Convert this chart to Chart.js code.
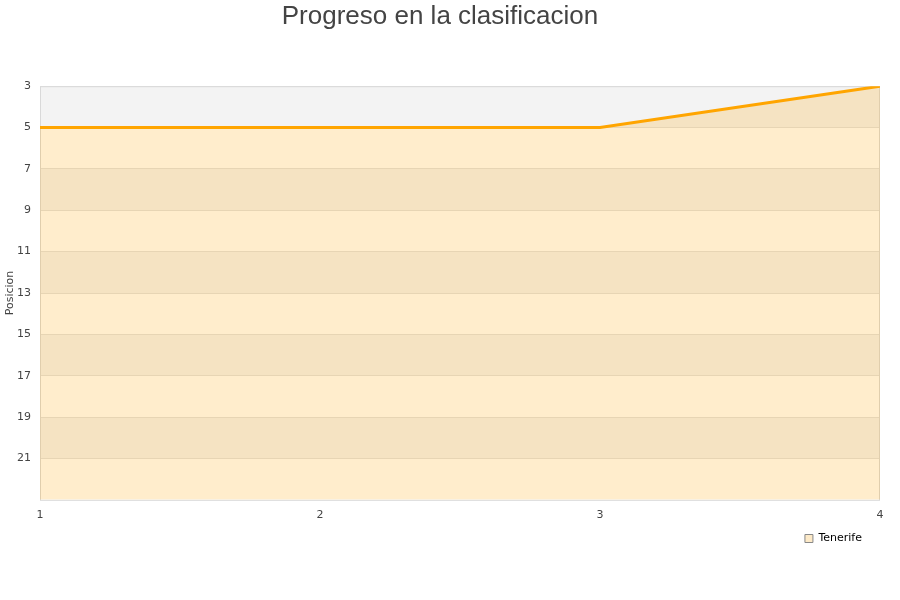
<!DOCTYPE html>
<html lang="es">
<head>
    <meta charset="UTF-8">
    <title>Progreso en la clasificacion</title>
    <script src="https://cdn.jsdelivr.net/npm/chart.js"></script>
    <style>
        html, body { margin: 0; padding: 0; background: #fff; }
        #wrap { width: 900px; height: 600px; }
    </style>
</head>
<body>
    <div id="wrap"><canvas id="posChart" width="900" height="600"></canvas></div>
    <script>
        // Datos
        const jornadas = [1, 2, 3, 4];
        const posiciones = [5, 5, 5, 3];
        const equipo = 'Tenerife';
        const yTicks = [3, 5, 7, 9, 11, 13, 15, 17, 19, 21];

        // alternating background bands + plot border
        const bandsPlugin = {
            id: 'bands',
            afterLayout(chart) {
                // pull the legend up closer to the x axis
                chart.legend.top -= 16;
                chart.legend.bottom -= 16;
            },
            beforeDraw(chart) {
                const { ctx, chartArea: a, scales: { y } } = chart;
                ctx.save();
                for (let v = y.min; v < y.max; v += 2) {
                    const t = y.getPixelForValue(v);
                    const b = y.getPixelForValue(v + 2);
                    ctx.fillStyle = ((v - 3) / 2) % 2 === 0 ? '#f3f3f3' : '#ffffff';
                    ctx.fillRect(a.left, t, a.right - a.left, b - t);
                }
                ctx.restore();
            },
            beforeDatasetsDraw(chart) {
                const { ctx, chartArea: a } = chart;
                ctx.save();
                ctx.strokeStyle = '#d9d9d9';
                ctx.lineWidth = 1;
                ctx.strokeRect(a.left + 0.5, a.top + 0.5, a.right - a.left - 1, a.bottom - a.top);
                ctx.restore();
            }
        };

        const ctx = document.getElementById('posChart').getContext('2d');
        new Chart(ctx, {
            type: 'line',
            data: {
                datasets: [{
                    label: equipo,
                    data: jornadas.map((j, i) => ({ x: j, y: posiciones[i] })),
                    borderColor: '#ffa500',
                    backgroundColor: 'rgba(255, 165, 0, 0.2)',
                    borderWidth: 3,
                    pointRadius: 0,
                    tension: 0,
                    fill: 'start'
                }]
            },
            options: {
                responsive: false,
                animation: false,
                layout: { padding: { top: 0, right: 20, bottom: 30, left: 0 } },
                plugins: {
                    title: {
                        display: true,
                        text: 'Progreso en la clasificacion',
                        color: '#444',
                        font: { family: 'Liberation Sans, Arial', size: 26, weight: 'normal' },
                        padding: { top: 1, bottom: 54 }
                    },
                    legend: {
                        position: 'bottom',
                        align: 'end',
                        labels: {
                            boxWidth: 8,
                            boxHeight: 8,
                            padding: 18,
                            color: '#000',
                            font: { family: 'DejaVu Sans', size: 11 },
                            generateLabels: (chart) => [{
                                text: equipo,
                                fillStyle: '#fdeac8',
                                strokeStyle: '#888',
                                lineWidth: 1,
                                datasetIndex: 0
                            }]
                        }
                    },
                    tooltip: { enabled: false }
                },
                scales: {
                    x: {
                        type: 'linear',
                        min: 1,
                        max: 4,
                        ticks: {
                            stepSize: 1,
                            color: '#444',
                            padding: 9,
                            font: { family: 'DejaVu Sans', size: 11 }
                        },
                        grid: { display: false, drawTicks: false },
                        border: { display: false }
                    },
                    y: {
                        reverse: true,
                        min: 3,
                        max: 23,
                        afterBuildTicks: (s) => { s.ticks = yTicks.map(v => ({ value: v })); },
                        ticks: {
                            color: '#444',
                            padding: 9,
                            font: { family: 'DejaVu Sans', size: 11 }
                        },
                        title: {
                            display: true,
                            text: 'Posicion',
                            color: '#444',
                            padding: { top: 4, bottom: 0 },
                            font: { family: 'DejaVu Sans', size: 11 }
                        },
                        grid: { color: '#e2e2e2', drawTicks: false },
                        border: { display: false },
                        afterFit: (s) => { s.width = 40; }
                    }
                }
            },
            plugins: [bandsPlugin]
        });
    </script>
</body>
</html>
